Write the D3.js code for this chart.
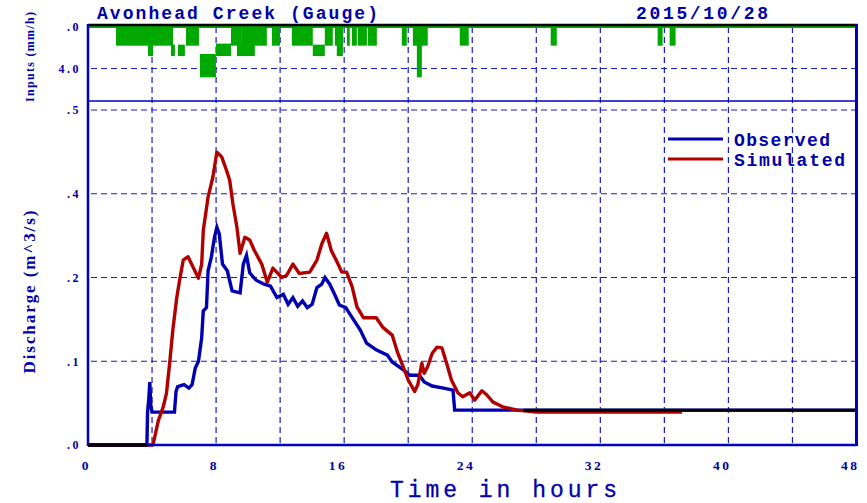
<!DOCTYPE html>
<html>
<head>
<meta charset="utf-8">
<script src="https://cdn.jsdelivr.net/npm/d3@7"></script>
<style>
html,body{margin:0;padding:0;background:#fff;}
svg{display:block;}
</style>
</head>
<body>
<svg id="chart" width="867" height="503"></svg>
<script>
// ---------------- DATA ----------------
const chartTitle = "Avonhead Creek (Gauge)";
const chartDate = "2015/10/28";
const seriesNames = ["Observed", "Simulated"];

const xTickValues = [0, 8, 16, 24, 32, 40, 48];
const xTickLabels = ["0", "8", "16", "24", "32", "40", "48"];
const xGridHours = [4, 8, 12, 16, 20, 24, 28, 32, 36, 40, 44];

const yTickValues = [0, 0.125, 0.25, 0.375, 0.5];
const yTickLabels = [".0", ".1", ".2", ".4", ".5"];

const rainTickValues = [0, 4];
const rainTickLabels = [".0", "4.0"];

// Observed discharge (m^3/s)
const obsHours = [0, 3.68, 3.72, 3.8, 3.86, 3.92, 4.0, 5.4, 5.5, 5.6, 6.0, 6.3, 6.5, 6.7, 6.9, 7.1, 7.2, 7.4, 7.5, 7.7, 7.9, 8.05, 8.2, 8.4, 8.7, 9.0, 9.5, 9.7, 9.9, 10.1, 10.5, 11.0, 11.4, 11.8, 12.2, 12.5, 12.8, 13.1, 13.4, 13.7, 14.0, 14.3, 14.6, 14.8, 15.1, 15.4, 15.7, 16.1, 16.5, 17.0, 17.4, 18.0, 18.7, 19.0, 19.7, 20.1, 20.7, 21.0, 21.5, 22.2, 22.8, 22.9, 48];
const obsValues = [0, 0, 0.049, 0.07, 0.094, 0.06, 0.049, 0.049, 0.08, 0.087, 0.09, 0.085, 0.09, 0.115, 0.125, 0.16, 0.2, 0.205, 0.26, 0.28, 0.31, 0.325, 0.315, 0.27, 0.26, 0.23, 0.227, 0.27, 0.283, 0.257, 0.246, 0.24, 0.237, 0.22, 0.225, 0.21, 0.22, 0.207, 0.215, 0.205, 0.21, 0.235, 0.24, 0.25, 0.24, 0.225, 0.209, 0.205, 0.19, 0.172, 0.152, 0.142, 0.134, 0.124, 0.112, 0.104, 0.104, 0.094, 0.088, 0.085, 0.082, 0.052, 0.052];

// Simulated discharge (m^3/s)
const simHours = [0, 4.06, 4.4, 4.7, 4.9, 5.1, 5.3, 5.55, 5.75, 5.95, 6.25, 6.55, 6.9, 7.1, 7.2, 7.5, 7.8, 8.05, 8.35, 8.65, 8.85, 9.05, 9.3, 9.5, 9.8, 10.1, 10.4, 10.85, 11.2, 11.55, 12.1, 12.4, 12.8, 13.2, 13.85, 14.3, 14.6, 14.9, 15.2, 15.5, 15.85, 16.15, 16.5, 16.8, 17.2, 17.6, 18.0, 18.4, 19.0, 19.35, 19.7, 20.0, 20.4, 20.6, 20.85, 21.0, 21.2, 21.5, 21.8, 22.1, 22.4, 22.7, 23.1, 23.4, 23.85, 24.15, 24.6, 24.9, 25.3, 25.9, 26.8, 28.0, 37.1];
const simValues = [0, 0, 0.037, 0.057, 0.077, 0.122, 0.172, 0.221, 0.25, 0.276, 0.281, 0.266, 0.249, 0.27, 0.32, 0.37, 0.40, 0.437, 0.43, 0.41, 0.395, 0.36, 0.325, 0.286, 0.31, 0.306, 0.29, 0.27, 0.243, 0.264, 0.25, 0.253, 0.27, 0.256, 0.258, 0.276, 0.30, 0.316, 0.29, 0.276, 0.258, 0.258, 0.236, 0.206, 0.19, 0.19, 0.19, 0.176, 0.164, 0.137, 0.116, 0.097, 0.08, 0.09, 0.122, 0.107, 0.116, 0.137, 0.146, 0.145, 0.122, 0.097, 0.078, 0.072, 0.078, 0.067, 0.081, 0.075, 0.064, 0.057, 0.052, 0.049, 0.049];

// Where observed and simulated coincide (drawn black): [startHour, endHour, value]
const matchSegments = [[0, 3.68, 0], [27.2, 48, 0.052]];

// Rainfall inputs (mm/h): [startHour, endHour, low, high]
const rainBands = [
  [1.75, 5.31, 0, 1.8], [3.75, 4.06, 0, 2.8], [5.18, 5.43, 1.7, 2.8], [5.62, 6.05, 1.7, 2.8],
  [6.12, 6.93, 0, 1.8], [6.99, 7.99, 2.6, 4.85], [7.99, 8.93, 1.6, 2.8], [8.93, 9.61, 0, 1.8],
  [9.3, 10.42, 1.7, 2.8], [9.61, 11.17, 0, 1.8], [11.49, 11.99, 0, 1.8], [12.73, 14.04, 0, 1.8],
  [14.04, 14.79, 1.7, 2.8], [14.79, 15.29, 0, 1.8], [15.42, 15.92, 0, 1.8], [15.54, 15.92, 0, 2.8],
  [16.17, 16.35, 0, 1.8], [16.48, 16.79, 0, 1.8], [16.85, 17.42, 0, 1.8], [17.48, 18.04, 0, 1.8],
  [19.6, 19.91, 0, 1.8], [20.29, 21.22, 0, 1.8], [20.54, 20.85, 0, 4.85], [23.22, 23.78, 0, 1.8],
  [28.9, 29.28, 0, 1.8], [35.58, 35.89, 0, 1.8], [36.33, 36.7, 0, 1.8]
];

// ---------------- DRAW ----------------
const svg = d3.select("#chart");
const W = 867, H = 503;
svg.append("rect").attr("width", W).attr("height", H).attr("fill", "#fff");

const C = {
  text: "#0000a8", axis: "#0000c0", grid: "#1a1ac8",
  obs: "#0000b0", sim: "#b00000", rain: "#00a800", match: "#000000"
};
const MONO = "'Liberation Mono', 'DejaVu Sans Mono', monospace";
const SERIF = "'Liberation Serif', 'DejaVu Serif', serif";

const x = d3.scaleLinear().domain([0, 48]).range([88, 856.5]);
const y = d3.scaleLinear().domain([0, 0.5]).range([445, 110]);
const yR = d3.scaleLinear().domain([0, 8]).range([27, 110]);

const rainTop = 25, rainBottom = 101, mainTop = 101;

const defs = svg.append("defs");
defs.append("clipPath").attr("id", "rainClip").append("rect")
  .attr("x", x(0)).attr("y", rainTop).attr("width", x(48) - x(0)).attr("height", rainBottom - rainTop);
defs.append("clipPath").attr("id", "mainClip").append("rect")
  .attr("x", x(0)).attr("y", mainTop).attr("width", x(48) - x(0)).attr("height", y(0) - mainTop + 2);

// Grid lines
const grid = svg.append("g").attr("stroke", C.grid).attr("stroke-width", 1.2).attr("stroke-dasharray", "6,4");
grid.selectAll("line.v").data(xGridHours).join("line").attr("class", "v")
  .attr("x1", d => x(d)).attr("x2", d => x(d)).attr("y1", rainTop + 2).attr("y2", y(0));
grid.selectAll("line.h").data(yTickValues.slice(1)).join("line").attr("class", "h")
  .attr("x1", x(0) + 3).attr("x2", x(48)).attr("y1", d => y(d)).attr("y2", d => y(d));
grid.selectAll("line.r").data(rainTickValues.slice(1)).join("line").attr("class", "r")
  .attr("x1", x(0) + 3).attr("x2", x(48)).attr("y1", d => yR(d)).attr("y2", d => yR(d));

// Rain bands
const rainG = svg.append("g").attr("clip-path", "url(#rainClip)");
rainG.append("line").attr("x1", x(0)).attr("x2", x(48)).attr("y1", yR(0)).attr("y2", yR(0))
  .attr("stroke", C.rain).attr("stroke-width", 2);
rainG.selectAll("rect.rain").data(rainBands).join("rect").attr("class", "rain")
  .attr("x", d => x(d[0])).attr("width", d => Math.max(1, x(d[1]) - x(d[0])))
  .attr("y", d => yR(d[2])).attr("height", d => yR(d[3]) - yR(d[2]))
  .attr("fill", C.rain);

// Series lines
const obsData = obsHours.map((h, i) => [h, obsValues[i]]);
const simData = simHours.map((h, i) => [h, simValues[i]]);
const line = d3.line().x(d => x(d[0])).y(d => y(d[1]));
const mainG = svg.append("g").attr("clip-path", "url(#mainClip)");
mainG.append("path").datum(obsData).attr("d", line).attr("fill", "none")
  .attr("stroke", C.obs).attr("stroke-width", 3.4).attr("stroke-linejoin", "miter");
mainG.append("path").datum(simData).attr("d", line).attr("fill", "none")
  .attr("stroke", C.sim).attr("stroke-width", 3.4).attr("stroke-linejoin", "round");
mainG.selectAll("line.match").data(matchSegments).join("line").attr("class", "match")
  .attr("x1", d => x(d[0])).attr("x2", d => x(d[1])).attr("y1", d => y(d[2])).attr("y2", d => y(d[2]))
  .attr("stroke", C.match).attr("stroke-width", 3);

// Frame
const frame = svg.append("g");
frame.append("line").attr("x1", x(0)).attr("x2", x(48) + 1).attr("y1", rainTop).attr("y2", rainTop)
  .attr("stroke", "#000").attr("stroke-width", 2.5);
frame.append("line").attr("x1", x(0)).attr("x2", x(48)).attr("y1", rainBottom).attr("y2", rainBottom)
  .attr("stroke", C.axis).attr("stroke-width", 1.5);
frame.append("line").attr("x1", x(0)).attr("x2", x(0)).attr("y1", rainTop - 1).attr("y2", y(0) + 1)
  .attr("stroke", C.axis).attr("stroke-width", 2.5);
frame.append("line").attr("x1", x(48)).attr("x2", x(48)).attr("y1", rainTop - 1).attr("y2", y(0) + 1)
  .attr("stroke", C.axis).attr("stroke-width", 3);
frame.append("line").attr("x1", x(0)).attr("x2", x(48)).attr("y1", y(0)).attr("y2", y(0))
  .attr("stroke", C.axis).attr("stroke-width", 2.5);
svg.selectAll("line.match0").data(matchSegments.filter(d => d[2] === 0)).join("line").attr("class", "match0")
  .attr("x1", d => x(d[0])).attr("x2", d => x(d[1])).attr("y1", d => y(d[2])).attr("y2", d => y(d[2]))
  .attr("stroke", C.match).attr("stroke-width", 3);

// Axes (labels only)
const yAxis = d3.axisLeft(y).tickValues(yTickValues).tickSize(0).tickPadding(0)
  .tickFormat((d, i) => yTickLabels[i]);
const yAxG = svg.append("g").attr("transform", "translate(81,0)").call(yAxis);
const rAxis = d3.axisLeft(yR).tickValues(rainTickValues).tickSize(0).tickPadding(0)
  .tickFormat((d, i) => rainTickLabels[i]);
const rAxG = svg.append("g").attr("transform", "translate(81,0)").call(rAxis);
const xAxis = d3.axisBottom(x).tickValues(xTickValues).tickSize(0).tickPadding(0)
  .tickFormat((d, i) => xTickLabels[i]);
const xAxG = svg.append("g").attr("transform", "translate(2.5,460)").call(xAxis);
[yAxG, rAxG, xAxG].forEach(g => {
  g.select(".domain").remove();
  g.selectAll("text").attr("fill", C.text).attr("font-family", SERIF).attr("font-weight", "bold")
    .attr("letter-spacing", "2.5px");
});
yAxG.selectAll("text").attr("font-size", 12);
rAxG.selectAll("text").attr("font-size", 12);
xAxG.selectAll("text").attr("font-size", 13.5).attr("text-anchor", "end").attr("dy", "0.71em");

// Titles
svg.append("text").attr("x", 97).attr("y", 18.5).text(chartTitle)
  .attr("font-family", MONO).attr("font-weight", "bold").attr("font-size", 18)
  .attr("fill", C.text).attr("textLength", 281).attr("lengthAdjust", "spacing");
svg.append("text").attr("x", 636).attr("y", 18.5).text(chartDate)
  .attr("font-family", MONO).attr("font-weight", "bold").attr("font-size", 18)
  .attr("fill", C.text).attr("textLength", 132).attr("lengthAdjust", "spacing");
svg.append("text").attr("x", 390).attr("y", 497).text("Time in hours")
  .attr("font-family", MONO).attr("font-size", 23).attr("stroke", C.text).attr("stroke-width", 0.3)
  .attr("fill", C.text).attr("textLength", 227).attr("lengthAdjust", "spacing");
svg.append("text").attr("transform", "translate(35,292) rotate(-90)").attr("text-anchor", "middle")
  .text("Discharge (m^3/s)")
  .attr("font-family", SERIF).attr("font-weight", "bold").attr("font-size", 17)
  .attr("fill", C.text).attr("textLength", 163).attr("lengthAdjust", "spacing");
svg.append("text").attr("transform", "translate(34,57) rotate(-90)").attr("text-anchor", "middle")
  .text("Inputs (mm/h)")
  .attr("font-family", SERIF).attr("font-weight", "bold").attr("font-size", 12)
  .attr("fill", C.text).attr("textLength", 90).attr("lengthAdjust", "spacing");

// Legend
const legend = svg.append("g");
const legendColors = [C.obs, C.sim];
const legendY = [139, 159];
const legendW = [96, 111];
seriesNames.forEach((name, i) => {
  legend.append("line").attr("x1", 668).attr("x2", 723).attr("y1", legendY[i]).attr("y2", legendY[i])
    .attr("stroke", legendColors[i]).attr("stroke-width", 3);
  legend.append("text").attr("x", 734).attr("y", legendY[i] + 6.5).text(name)
    .attr("font-family", MONO).attr("font-weight", "bold").attr("font-size", 18)
    .attr("fill", C.text).attr("textLength", legendW[i]).attr("lengthAdjust", "spacing");
});
</script>
</body>
</html>
